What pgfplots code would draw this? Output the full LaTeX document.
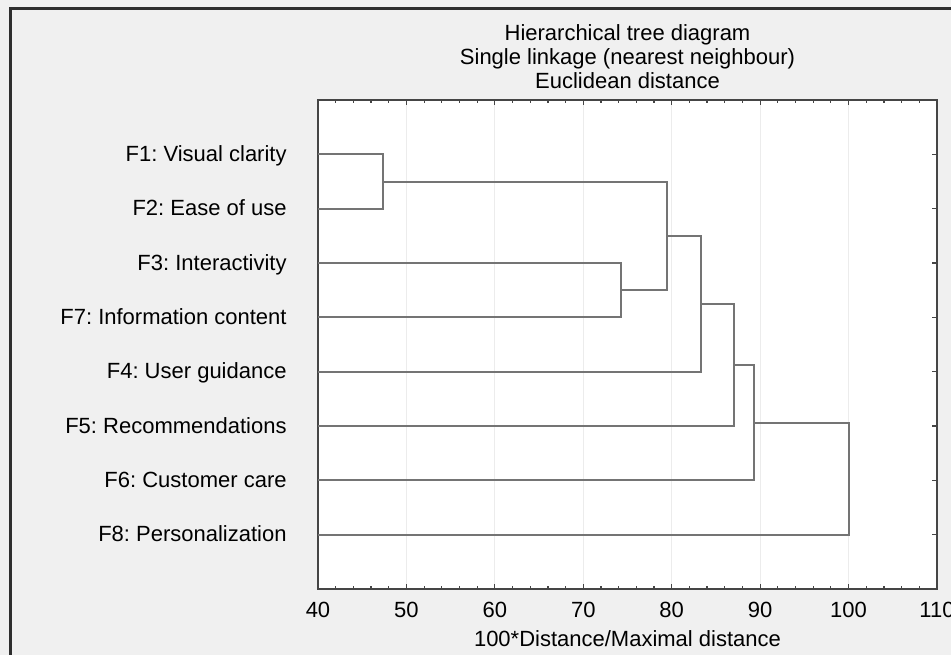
\documentclass[border=0pt]{standalone}
\usepackage{pgfplots}
\pgfplotsset{compat=1.18}
\usepackage{fontspec}
\setmainfont{Liberation Sans}
\definecolor{bgc}{HTML}{F0F0F0}
\definecolor{framec}{HTML}{2E2E2E}
\definecolor{boxc}{HTML}{454545}
\definecolor{treec}{HTML}{747474}
\definecolor{gridc}{HTML}{ECECEC}
\newcommand{\fs}{\fontsize{11bp}{13bp}\selectfont}
\frenchspacing
\begin{document}
\begin{tikzpicture}[font=\fs]
% page = 951 x 655 px at 0.5bp per px, origin top-left
\fill[bgc] (0,0) rectangle (475.5bp,-327.5bp);
\useasboundingbox (0,0) rectangle (475.5bp,-327.5bp);
\draw[framec, line width=1.4bp] (5.2bp,-330bp) -- (5.2bp,-4.2bp) -- (480bp,-4.2bp);
\node[anchor=base] at (313.75bp,-20.3bp) {Hierarchical tree diagram};
\node[anchor=base] at (313.75bp,-32.2bp) {Single linkage (nearest neighbour)};
\node[anchor=base] at (313.75bp,-44.2bp) {Euclidean distance};
\begin{axis}[
  at={(159bp,-294.5bp)}, anchor=south west,
  scale only axis, width=309.5bp, height=244.5bp,
  xmin=40, xmax=110, ymin=0, ymax=9, y dir=reverse,
  axis background/.style={fill=white},
  axis line style={boxc, line width=0.9bp},
  xtick={40,50,...,110}, minor x tick num=4,
  ytick={1,...,8},
  yticklabels={F1: Visual clarity,F2: Ease of use,F3: Interactivity,F7: Information content,F4: User guidance,F5: Recommendations,F6: Customer care,F8: Personalization},
  tick align=inside, xtick pos=both, ytick pos=both,
  major tick length=2.6bp, minor tick length=1.6bp,
  tick style={boxc, line width=0.6bp},
  xmajorgrids, grid style={gridc, line width=0.5bp},
  /pgf/number format/assume math mode=true,
  xticklabel style={font=\fs, anchor=base, inner sep=0pt, yshift=-14bp},
  yticklabel style={font=\fs, anchor=base east, inner sep=0pt, xshift=-15.5bp, yshift=-3.6bp},
  xlabel={100*Distance/Maximal distance},
  xlabel style={font=\fs, at={(axis description cs:0.5,0)}, anchor=base, inner sep=0pt, yshift=-28.5bp},
  clip=false,
]
\addplot[treec, line width=1bp] coordinates {(40,1) (47.3,1) (47.3,2) (40,2)};
\addplot[treec, line width=1bp] coordinates {(40,3) (74.3,3) (74.3,4) (40,4)};
\addplot[treec, line width=1bp] coordinates {(47.3,1.5) (79.5,1.5) (79.5,3.5) (74.3,3.5)};
\addplot[treec, line width=1bp] coordinates {(79.5,2.5) (83.3,2.5) (83.3,5) (40,5)};
\addplot[treec, line width=1bp] coordinates {(83.3,3.75) (87.0,3.75) (87.0,6) (40,6)};
\addplot[treec, line width=1bp] coordinates {(87.0,4.875) (89.3,4.875) (89.3,7) (40,7)};
\addplot[treec, line width=1bp] coordinates {(89.3,5.9375) (100,5.9375) (100,8) (40,8)};
\end{axis}
\end{tikzpicture}
\end{document}
